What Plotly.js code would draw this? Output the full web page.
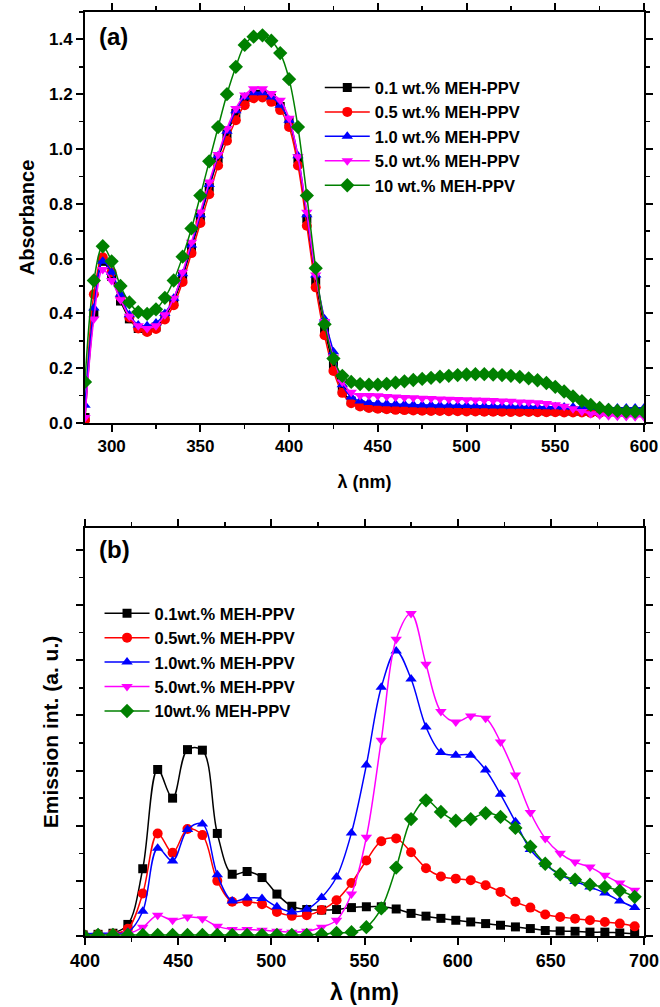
<!DOCTYPE html>
<html>
<head>
<meta charset="utf-8">
<script src="https://cdn.plot.ly/plotly-3.0.1.min.js"></script>
<style>
  html, body { margin: 0; padding: 0; background: #fff; }
  #chart { width: 660px; height: 1007px; }
</style>
</head>
<body>
<div id="chart"></div>
<script>
// ---------- (a) absorption spectra ----------
const absWavelength = [
  285, 290, 295, 300, 305, 310, 315, 320, 325, 330, 335, 340, 345, 350, 355, 360,
  365, 370, 375, 380, 385, 390, 395, 400, 405, 410, 415, 420, 425, 430, 435, 440,
  445, 450, 455, 460, 465, 470, 475, 480, 485, 490, 495, 500, 505, 510, 515, 520,
  525, 530, 535, 540, 545, 550, 555, 560, 565, 570, 575, 580, 585, 590, 595, 600
];
const abs01 = [
  0.02, 0.40, 0.59, 0.535, 0.445, 0.38, 0.345, 0.338, 0.35, 0.39, 0.445, 0.535, 0.64, 0.75, 0.86, 0.965,
  1.055, 1.13, 1.18, 1.20, 1.20, 1.185, 1.155, 1.10, 0.965, 0.745, 0.52, 0.345, 0.21, 0.12, 0.08, 0.066,
  0.06, 0.057, 0.055, 0.053, 0.052, 0.051, 0.05, 0.05, 0.049, 0.049, 0.048, 0.048, 0.047, 0.047, 0.046, 0.046,
  0.046, 0.045, 0.045, 0.045, 0.044, 0.044, 0.044, 0.043, 0.043, 0.043, 0.042, 0.042, 0.042, 0.041, 0.041, 0.041
];
const abs05 = [
  0.01, 0.47, 0.605, 0.55, 0.46, 0.385, 0.345, 0.332, 0.343, 0.378, 0.43, 0.515, 0.62, 0.73, 0.835, 0.94,
  1.03, 1.105, 1.16, 1.185, 1.188, 1.172, 1.142, 1.08, 0.94, 0.72, 0.495, 0.32, 0.19, 0.11, 0.072, 0.06,
  0.055, 0.052, 0.05, 0.048, 0.047, 0.046, 0.045, 0.044, 0.044, 0.043, 0.043, 0.042, 0.042, 0.041, 0.041, 0.041,
  0.04, 0.04, 0.04, 0.039, 0.039, 0.039, 0.038, 0.038, 0.038, 0.037, 0.037, 0.037, 0.036, 0.036, 0.036, 0.036
];
const abs10 = [
  0.065, 0.42, 0.59, 0.55, 0.47, 0.395, 0.358, 0.355, 0.365, 0.40, 0.455, 0.545, 0.65, 0.76, 0.87, 0.975,
  1.065, 1.14, 1.19, 1.205, 1.205, 1.19, 1.16, 1.105, 0.975, 0.76, 0.54, 0.38, 0.26, 0.14, 0.095, 0.08,
  0.075, 0.072, 0.07, 0.069, 0.068, 0.067, 0.066, 0.066, 0.065, 0.065, 0.064, 0.064, 0.063, 0.063, 0.062, 0.062,
  0.061, 0.061, 0.06, 0.06, 0.059, 0.059, 0.058, 0.058, 0.057, 0.057, 0.056, 0.056, 0.055, 0.055, 0.055, 0.055
];
const abs50 = [
  0.02, 0.38, 0.56, 0.52, 0.45, 0.39, 0.355, 0.345, 0.355, 0.395, 0.455, 0.55, 0.66, 0.77, 0.88, 0.98,
  1.075, 1.148, 1.197, 1.22, 1.22, 1.203, 1.178, 1.112, 0.972, 0.769, 0.54, 0.37, 0.24, 0.15, 0.112, 0.10,
  0.10, 0.099, 0.097, 0.095, 0.093, 0.092, 0.09, 0.089, 0.088, 0.087, 0.086, 0.085, 0.084, 0.083, 0.082, 0.08,
  0.079, 0.077, 0.076, 0.074, 0.071, 0.067, 0.061, 0.052, 0.042, 0.034, 0.029, 0.026, 0.025, 0.024, 0.023, 0.023
];
const abs100 = [
  0.15, 0.52, 0.645, 0.59, 0.50, 0.44, 0.405, 0.398, 0.415, 0.457, 0.52, 0.607, 0.71, 0.83, 0.955, 1.08,
  1.20, 1.30, 1.38, 1.41, 1.415, 1.395, 1.35, 1.255, 1.08, 0.83, 0.565, 0.36, 0.235, 0.172, 0.15, 0.142,
  0.14, 0.14, 0.143, 0.147, 0.152, 0.157, 0.161, 0.165, 0.169, 0.172, 0.175, 0.177, 0.178, 0.178, 0.177, 0.175,
  0.172, 0.168, 0.163, 0.156, 0.146, 0.132, 0.115, 0.097, 0.08, 0.066, 0.055, 0.048, 0.044, 0.042, 0.041, 0.041
];

// ---------- (b) emission spectra ----------
const emWavelength = [
  399, 407, 415, 423, 431, 439, 447, 455, 463, 471, 479, 487, 495, 503, 511, 519, 527, 535, 543,
  551, 559, 567, 575, 583, 591, 599, 607, 615, 623, 631, 639, 647, 655, 663, 671, 679, 687, 695
];
const em01 = [
  0.02, 0.03, 0.05, 0.21, 1.22, 3.02, 2.50, 3.38, 3.37, 1.86, 1.12, 1.17, 1.06, 0.76, 0.54, 0.48, 0.47, 0.48, 0.515,
  0.53, 0.53, 0.49, 0.41, 0.36, 0.32, 0.285, 0.255, 0.225, 0.195, 0.165, 0.135, 0.10, 0.09, 0.085, 0.07, 0.07, 0.055, 0.045
];
const em05 = [
  0.03, 0.03, 0.04, 0.13, 0.77, 1.86, 1.51, 1.94, 1.83, 1.00, 0.62, 0.62, 0.575, 0.435, 0.365, 0.375, 0.47, 0.65, 0.96,
  1.37, 1.72, 1.77, 1.52, 1.23, 1.08, 1.04, 1.01, 0.92, 0.80, 0.62, 0.515, 0.39, 0.345, 0.315, 0.285, 0.255, 0.225, 0.175
];
const em10 = [
  0.04, 0.05, 0.05, 0.07, 0.45, 1.59, 1.36, 1.93, 2.03, 1.11, 0.635, 0.69, 0.68, 0.53, 0.435, 0.485, 0.70, 1.07, 1.87,
  3.10, 4.51, 5.17, 4.66, 3.79, 3.33, 3.28, 3.28, 3.01, 2.57, 2.07, 1.57, 1.30, 1.11, 0.99, 0.89, 0.78, 0.635, 0.515
];
const em50 = [
  0.02, 0.02, 0.03, 0.04, 0.16, 0.375, 0.285, 0.345, 0.315, 0.175, 0.12, 0.12, 0.105, 0.085, 0.07, 0.085, 0.16, 0.285, 0.76,
  1.79, 3.55, 5.38, 5.85, 4.93, 4.07, 3.88, 3.99, 3.95, 3.52, 2.92, 2.24, 1.77, 1.50, 1.34, 1.25, 1.10, 0.96, 0.83
];
const em100 = [
  0.02, 0.02, 0.02, 0.02, 0.02, 0.02, 0.02, 0.02, 0.02, 0.02, 0.02, 0.02, 0.02, 0.02, 0.02, 0.02, 0.03, 0.055, 0.07,
  0.16, 0.50, 1.24, 2.12, 2.46, 2.25, 2.09, 2.12, 2.23, 2.16, 1.96, 1.62, 1.31, 1.12, 1.02, 0.93, 0.89, 0.82, 0.71
];

const absNames = ['0.1 wt.% MEH-PPV', '0.5 wt.% MEH-PPV', '1.0 wt.% MEH-PPV', '5.0 wt.% MEH-PPV', '10 wt.% MEH-PPV'];
const emNames = ['0.1wt.% MEH-PPV', '0.5wt.% MEH-PPV', '1.0wt.% MEH-PPV', '5.0wt.% MEH-PPV', '10wt.% MEH-PPV'];

// series styling shared by both panels
const colors = ['#000000', '#ff0000', '#0000ff', '#ff00ff', '#008000'];
const symbols = ['square', 'circle', 'triangle-up', 'triangle-down', 'diamond'];
const sizes = [9, 10, 10, 10, 11];

const FONT = 'Liberation Sans, Arial, Helvetica, sans-serif';

function series(x, y, i, name, xa, ya, legend) {
  return {
    type: 'scatter', mode: 'lines+markers',
    x: x, y: y, name: name,
    xaxis: xa, yaxis: ya, legend: legend,
    line: { color: colors[i], width: 1.5, shape: 'spline', smoothing: 1 },
    marker: { color: colors[i], symbol: symbols[i], size: sizes[i], line: { width: 0 } }
  };
}

const absSets = [abs01, abs05, abs10, abs50, abs100];
const emSets = [em01, em05, em10, em50, em100];
const traces = [];
absSets.forEach((s, i) => traces.push(series(absWavelength, s, i, absNames[i], 'x', 'y', 'legend')));
emSets.forEach((s, i) => traces.push(series(emWavelength, s, i, emNames[i], 'x2', 'y2', 'legend2')));

function axisBase(extra) {
  return Object.assign({
    showline: true, linecolor: '#000', linewidth: 2, mirror: 'ticks',
    ticks: 'outside', ticklen: 7, tickwidth: 2, tickcolor: '#000',
    showgrid: false, zeroline: false,
    tickfont: { family: FONT, size: 17, color: '#000', weight: 'bold' }
  }, extra);
}

const layout = {
  width: 660, height: 1007,
  margin: { l: 85, r: 16, t: 12, b: 71 },
  paper_bgcolor: '#fff', plot_bgcolor: '#fff',
  showlegend: true,
  xaxis: axisBase({
    domain: [0, 1], anchor: 'y', range: [285, 600], tick0: 300, dtick: 50,
    minor: { ticks: 'outside', ticklen: 4, tickwidth: 1.5, tick0: 275, dtick: 25, tickcolor: '#000' },
    title: { text: 'λ (nm)', font: { family: FONT, size: 18, color: '#000', weight: 'bold' }, standoff: 20 }
  }),
  yaxis: axisBase({
    domain: [0.5552, 1], anchor: 'x', range: [0, 1.5], tick0: 0, dtick: 0.2, tickformat: '.1f',
    minor: { ticks: 'outside', ticklen: 4, tickwidth: 1.5, tick0: 0, dtick: 0.1, tickcolor: '#000' },
    title: { text: 'Absorbance', font: { family: FONT, size: 20, color: '#000', weight: 'bold' }, standoff: 9 }
  }),
  xaxis2: axisBase({
    domain: [0, 1], anchor: 'y2', range: [400, 700], tick0: 400, dtick: 50,
    minor: { ticks: 'outside', ticklen: 4, tickwidth: 1.5, tick0: 400, dtick: 25, tickcolor: '#000' },
    tickfont: { family: FONT, size: 18, color: '#000', weight: 'bold' },
    title: { text: 'λ (nm)', font: { family: FONT, size: 23, color: '#000', weight: 'bold' }, standoff: 14 }
  }),
  yaxis2: axisBase({
    domain: [0, 0.4416], anchor: 'x2', range: [0, 7.4], tick0: 0, dtick: 1, showticklabels: false,
    minor: { ticks: 'outside', ticklen: 4, tickwidth: 1.5, tick0: 0, dtick: 0.5, tickcolor: '#000' },
    title: { text: 'Emission int. (a. u.)', font: { family: FONT, size: 21, color: '#000', weight: 'bold' }, standoff: 12 }
  }),
  legend: {
    x: 0.42, y: 0.937, xanchor: 'left', yanchor: 'top',
    bgcolor: 'rgba(0,0,0,0)', borderwidth: 0, itemwidth: 45,
    font: { family: FONT, size: 16.5, color: '#000', weight: 'bold' }
  },
  legend2: {
    x: 0.026, y: 0.368, xanchor: 'left', yanchor: 'top',
    bgcolor: 'rgba(0,0,0,0)', borderwidth: 0, itemwidth: 45,
    font: { family: FONT, size: 16.5, color: '#000', weight: 'bold' }
  },
  annotations: [
    { text: '(a)', xref: 'paper', yref: 'paper', x: 0.0215, y: 0.973, xanchor: 'left', yanchor: 'middle',
      showarrow: false, font: { family: FONT, size: 24, color: '#000', weight: 'bold' } },
    { text: '(b)', xref: 'paper', yref: 'paper', x: 0.0215, y: 0.418, xanchor: 'left', yanchor: 'middle',
      showarrow: false, font: { family: FONT, size: 24, color: '#000', weight: 'bold' } }
  ]
};

Plotly.newPlot('chart', traces, layout, { staticPlot: true, displayModeBar: false });
</script>
</body>
</html>
